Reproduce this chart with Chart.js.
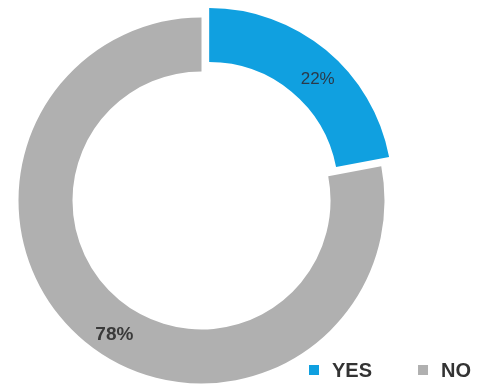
<!DOCTYPE html>
<html>
<head>
<meta charset="utf-8">
<script src="https://cdn.jsdelivr.net/npm/chart.js@4/dist/chart.umd.min.js"></script>
<style>
  html, body { margin: 0; padding: 0; background: #ffffff; }
  #chart { display: block; }
</style>
</head>
<body>
<canvas id="chart" width="480" height="387"></canvas>
<script>
// Survey answers and their share of responses (percent)
const categories = ['YES', 'NO'];
const shares = [22, 78];
const sliceColors = ['#10a0e0', '#b0b0b0'];
const sliceOffsets = [48, 0]; // arc offset; Chart.js moves the arc by a quarter of this

// Percentage labels drawn inside each ring segment
const sliceLabels = {
  id: 'sliceLabels',
  afterDatasetsDraw(chart, args, opts) {
    const ctx = chart.ctx;
    const meta = chart.getDatasetMeta(0);
    meta.data.forEach((arc, i) => {
      const p = arc.getProps(['x', 'y', 'startAngle', 'endAngle', 'innerRadius', 'outerRadius'], true);
      const half = (p.startAngle + p.endAngle) / 2;
      const shift = (arc.options.offset || 0) / 4;
      const cx = p.x + Math.cos(half) * shift;
      const cy = p.y + Math.sin(half) * shift;
      const ang = half + (opts.angleNudge[i] || 0) * Math.PI / 180;
      const r = (p.innerRadius + p.outerRadius) / 2 + (opts.radialNudge[i] || 0);
      ctx.save();
      ctx.font = opts.fonts[i];
      ctx.fillStyle = opts.colors[i];
      ctx.textAlign = 'center';
      ctx.textBaseline = 'middle';
      ctx.fillText(chart.data.datasets[0].data[i] + '%', cx + Math.cos(ang) * r, cy + Math.sin(ang) * r);
      ctx.restore();
    });
  }
};

// Legend row in the lower right corner
const cornerLegend = {
  id: 'cornerLegend',
  afterDraw(chart, args, opts) {
    const ctx = chart.ctx;
    const ds = chart.data.datasets[0];
    ctx.save();
    ctx.font = opts.font;
    ctx.textBaseline = 'middle';
    ctx.textAlign = 'left';
    let x = opts.x;
    chart.data.labels.forEach((label, i) => {
      ctx.fillStyle = ds.backgroundColor[i];
      ctx.fillRect(x, opts.y - opts.box / 2, opts.box, opts.box);
      x += opts.box + opts.gap;
      ctx.fillStyle = opts.color;
      ctx.fillText(label, x, opts.y + 1);
      x += ctx.measureText(label).width + opts.spacing;
    });
    ctx.restore();
  }
};

new Chart(document.getElementById('chart'), {
  type: 'doughnut',
  data: {
    labels: categories,
    datasets: [{
      data: shares,
      backgroundColor: sliceColors,
      borderWidth: 0,
      offset: sliceOffsets,
      hoverOffset: 0,
      clip: false
    }]
  },
  options: {
    responsive: false,
    animation: false,
    radius: 183,
    cutout: '70.5%',
    layout: { padding: { left: 0, right: 77, top: 14, bottom: 0 } },
    plugins: {
      legend: { display: false },
      tooltip: { enabled: false },
      sliceLabels: {
        fonts: ['17px "Liberation Sans", Arial, sans-serif', 'bold 19px "Liberation Sans", Arial, sans-serif'],
        colors: ['#2b3a4a', '#3a3a3a'],
        angleNudge: [4.5, -6.6],
        radialNudge: [0, 4]
      },
      cornerLegend: {
        x: 309, y: 370, box: 10, gap: 13, spacing: 46,
        font: 'bold 20px "Liberation Sans", Arial, sans-serif',
        color: '#333333'
      }
    }
  },
  plugins: [sliceLabels, cornerLegend]
});
</script>
</body>
</html>
